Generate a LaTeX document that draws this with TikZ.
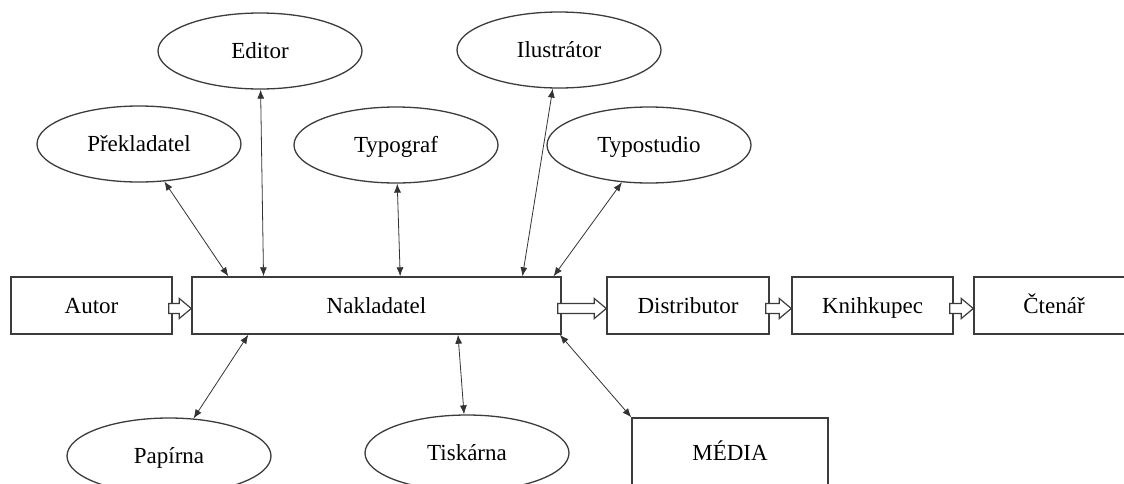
\documentclass[tikz,border=0pt]{standalone}
\usepackage{fontspec}
\setmainfont{Liberation Serif}
\usetikzlibrary{shapes.geometric,arrows.meta,calc}

\begin{document}
\begin{tikzpicture}[x=1pt, y=-1pt]
  % Colors
  \definecolor{blank}{HTML}{ffffff}
  \definecolor{outline}{HTML}{3c3c3c}
  \definecolor{wire}{HTML}{333333}

  % Configurations
  \tikzset{
    label/.style={font=\fontsize{23}{27}\selectfont, text=black, inner sep=0pt,
      text height=17pt, text depth=2pt},
    party/.style={label, draw=outline, line width=1.4pt, minimum height=57pt},
    actor/.style={label, ellipse, draw=outline, line width=1.3pt,
      minimum width=204pt, minimum height=76pt},
    link/.style={draw=wire, line width=.8pt,
      {Latex[length=9pt,width=7pt]}-{Latex[length=9pt,width=7pt]}},
    hollow/.style={draw=outline, line width=1.2pt, fill=blank,
      to path={let \p1=($(\tikztostart)+(-4,3)$), \p2=(\tikztotarget) in
        (\x1,\y1+5pt) -- (\x2-12pt,\y1+5pt) -- (\x2-12pt,\y1+10pt)
        -- (\x2,\y1) -- (\x2-12pt,\y1-10pt) -- (\x2-12pt,\y1-5pt)
        -- (\x1,\y1-5pt) -- cycle}}
  }

  % Bounding box
  \clip [preaction={fill=blank}] (0,0) rectangle (1124,483);

  % Chain of the book
  \node [party, minimum width=161pt] (autor) at (91.5,305.5) {Autor};
  \node [party, minimum width=369pt] (nakl) at (376.5,305.5) {Nakladatel};
  \node [party, minimum width=162pt] (distr) at (688,305.5) {Distributor};
  \node [party, minimum width=161pt] (knih) at (872.5,305.5) {Knihkupec};
  \node [party, minimum width=160pt] (cten) at (1054,305.5) {Čtenář};

  % Partners above
  \node [actor] (prek) at (139,144) {Překladatel};
  \node [actor] (edit) at (260,51) {Editor};
  \node [actor] (typo) at (396,145) {Typograf};
  \node [actor] (ilus) at (559,50) {Ilustrátor};
  \node [actor] (stud) at (649,145) {Typostudio};

  % Partners below
  \node [actor] (papi) at (169,456) {Papírna};
  \node [actor] (tisk) at (467,453) {Tiskárna};
  \node [party, minimum width=196pt, minimum height=70pt] (media) at (730,453) {MÉDIA};

  % Flow of the book
  \draw [hollow] (autor.east) to (nakl.west);
  \draw [hollow] (nakl.east) to (distr.west);
  \draw [hollow] (distr.east) to (knih.west);
  \draw [hollow] (knih.east) to (cten.west);

  % Links to the publisher
  \draw [link] (prek) -- ($(nakl.north west)!.10!(nakl.north east)$);
  \draw [link] (edit) -- ($(nakl.north west)!.195!(nakl.north east)$);
  \draw [link] (typo) -- ($(nakl.north west)!.564!(nakl.north east)$);
  \draw [link] (ilus) -- ($(nakl.north west)!.894!(nakl.north east)$);
  \draw [link] (stud) -- ($(nakl.north west)!.978!(nakl.north east)$);
  \draw [link] ($(nakl.south west)!.154!(nakl.south east)$) -- (papi);
  \draw [link] ($(nakl.south west)!.72!(nakl.south east)$) -- (tisk);
  \draw [link] ($(nakl.south west)!.995!(nakl.south east)$) -- (media.north west);
\end{tikzpicture}
\end{document}
